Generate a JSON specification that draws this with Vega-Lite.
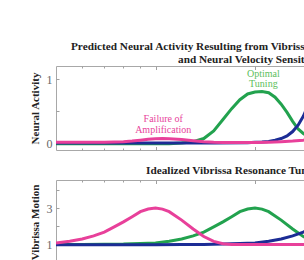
{
  "$schema": "https://vega.github.io/schema/vega-lite/v6.json",
  "padding": {"left": 28, "top": 40, "right": 0, "bottom": 0},
  "spacing": 13,
  "config": {
    "font": "Liberation Serif",
    "view": {"stroke": "#a8a8a8", "strokeWidth": 1},
    "axis": {"domain": false, "grid": false, "tickColor": "#a0a0a0", "labelColor": "#666666", "labelFont": "Liberation Serif", "labelFontSize": 12, "labelOverlap": false, "titleFont": "Liberation Serif", "titleFontSize": 11, "titleFontWeight": "bold", "titleColor": "#222222"},
    "title": {"font": "Liberation Serif", "fontSize": 11.25, "fontWeight": "bold", "color": "#222222"}
  },
  "title": {"text": "Predicted Neural Activity Resulting from Vibrissa Resonance Tuning", "anchor": "start", "dx": 15, "offset": 2, "frame": "group"},
  "datasets": {
    "activity": [
      {"freq": 50, "value": -0.01, "series": "green"}, {"freq": 60, "value": -0.01, "series": "green"}, {"freq": 70, "value": -0.01, "series": "green"}, {"freq": 80, "value": -0.01, "series": "green"}, {"freq": 90, "value": -0.01, "series": "green"}, {"freq": 100, "value": -0.01, "series": "green"}, {"freq": 110, "value": -0.01, "series": "green"}, {"freq": 120, "value": 0.0, "series": "green"}, {"freq": 130, "value": 0.02, "series": "green"}, {"freq": 140, "value": 0.07, "series": "green"}, {"freq": 150, "value": 0.19, "series": "green"}, {"freq": 160, "value": 0.37, "series": "green"}, {"freq": 170, "value": 0.54, "series": "green"}, {"freq": 180, "value": 0.68, "series": "green"}, {"freq": 190, "value": 0.77, "series": "green"}, {"freq": 200, "value": 0.8, "series": "green"}, {"freq": 210, "value": 0.81, "series": "green"}, {"freq": 220, "value": 0.79, "series": "green"}, {"freq": 230, "value": 0.72, "series": "green"}, {"freq": 240, "value": 0.61, "series": "green"}, {"freq": 250, "value": 0.48, "series": "green"}, {"freq": 260, "value": 0.34, "series": "green"}, {"freq": 270, "value": 0.22, "series": "green"}, {"freq": 280, "value": 0.15, "series": "green"}, {"freq": 290, "value": 0.1, "series": "green"}, {"freq": 300, "value": 0.07, "series": "green"}, {"freq": 320, "value": 0.03, "series": "green"}, {"freq": 350, "value": 0.01, "series": "green"}, {"freq": 400, "value": 0.0, "series": "green"}, {"freq": 800, "value": 0.0, "series": "green"},
      {"freq": 50, "value": 0.0, "series": "blue"}, {"freq": 100, "value": 0.0, "series": "blue"}, {"freq": 150, "value": 0.0, "series": "blue"}, {"freq": 190, "value": 0.005, "series": "blue"}, {"freq": 200, "value": 0.01, "series": "blue"}, {"freq": 210, "value": 0.015, "series": "blue"}, {"freq": 220, "value": 0.025, "series": "blue"}, {"freq": 230, "value": 0.045, "series": "blue"}, {"freq": 240, "value": 0.07, "series": "blue"}, {"freq": 250, "value": 0.11, "series": "blue"}, {"freq": 260, "value": 0.18, "series": "blue"}, {"freq": 270, "value": 0.28, "series": "blue"}, {"freq": 280, "value": 0.42, "series": "blue"}, {"freq": 290, "value": 0.6, "series": "blue"}, {"freq": 300, "value": 0.8, "series": "blue"}, {"freq": 320, "value": 1.1, "series": "blue"}, {"freq": 350, "value": 1.35, "series": "blue"}, {"freq": 400, "value": 1.4, "series": "blue"}, {"freq": 500, "value": 1.0, "series": "blue"}, {"freq": 600, "value": 0.4, "series": "blue"}, {"freq": 700, "value": 0.15, "series": "blue"}, {"freq": 800, "value": 0.05, "series": "blue"},
      {"freq": 50, "value": 0.01, "series": "pink"}, {"freq": 60, "value": 0.01, "series": "pink"}, {"freq": 70, "value": 0.01, "series": "pink"}, {"freq": 75, "value": 0.015, "series": "pink"}, {"freq": 80, "value": 0.02, "series": "pink"}, {"freq": 85, "value": 0.03, "series": "pink"}, {"freq": 90, "value": 0.045, "series": "pink"}, {"freq": 95, "value": 0.06, "series": "pink"}, {"freq": 100, "value": 0.068, "series": "pink"}, {"freq": 105, "value": 0.07, "series": "pink"}, {"freq": 110, "value": 0.068, "series": "pink"}, {"freq": 120, "value": 0.055, "series": "pink"}, {"freq": 130, "value": 0.035, "series": "pink"}, {"freq": 140, "value": 0.02, "series": "pink"}, {"freq": 150, "value": 0.012, "series": "pink"}, {"freq": 160, "value": 0.008, "series": "pink"}, {"freq": 180, "value": 0.006, "series": "pink"}, {"freq": 200, "value": 0.008, "series": "pink"}, {"freq": 220, "value": 0.012, "series": "pink"}, {"freq": 240, "value": 0.02, "series": "pink"}, {"freq": 260, "value": 0.03, "series": "pink"}, {"freq": 280, "value": 0.045, "series": "pink"}, {"freq": 300, "value": 0.065, "series": "pink"}, {"freq": 350, "value": 0.12, "series": "pink"}, {"freq": 400, "value": 0.17, "series": "pink"}, {"freq": 500, "value": 0.26, "series": "pink"}, {"freq": 600, "value": 0.33, "series": "pink"}, {"freq": 800, "value": 0.45, "series": "pink"}
    ],
    "motion": [
      {"freq": 50, "value": 0.97, "series": "green"}, {"freq": 60, "value": 0.98, "series": "green"}, {"freq": 70, "value": 0.99, "series": "green"}, {"freq": 80, "value": 1.0, "series": "green"}, {"freq": 90, "value": 1.03, "series": "green"}, {"freq": 100, "value": 1.06, "series": "green"}, {"freq": 110, "value": 1.15, "series": "green"}, {"freq": 120, "value": 1.28, "series": "green"}, {"freq": 130, "value": 1.45, "series": "green"}, {"freq": 140, "value": 1.66, "series": "green"}, {"freq": 150, "value": 1.95, "series": "green"}, {"freq": 160, "value": 2.23, "series": "green"}, {"freq": 170, "value": 2.52, "series": "green"}, {"freq": 180, "value": 2.8, "series": "green"}, {"freq": 190, "value": 2.95, "series": "green"}, {"freq": 200, "value": 3.0, "series": "green"}, {"freq": 210, "value": 2.94, "series": "green"}, {"freq": 220, "value": 2.8, "series": "green"}, {"freq": 240, "value": 2.33, "series": "green"}, {"freq": 260, "value": 1.84, "series": "green"}, {"freq": 280, "value": 1.42, "series": "green"}, {"freq": 300, "value": 1.15, "series": "green"}, {"freq": 320, "value": 1.02, "series": "green"}, {"freq": 340, "value": 0.98, "series": "green"}, {"freq": 360, "value": 0.97, "series": "green"}, {"freq": 800, "value": 0.97, "series": "green"},
      {"freq": 50, "value": 0.96, "series": "blue"}, {"freq": 100, "value": 0.96, "series": "blue"}, {"freq": 120, "value": 0.97, "series": "blue"}, {"freq": 140, "value": 0.98, "series": "blue"}, {"freq": 160, "value": 1.0, "series": "blue"}, {"freq": 180, "value": 1.03, "series": "blue"}, {"freq": 200, "value": 1.06, "series": "blue"}, {"freq": 220, "value": 1.15, "series": "blue"}, {"freq": 240, "value": 1.28, "series": "blue"}, {"freq": 260, "value": 1.45, "series": "blue"}, {"freq": 280, "value": 1.66, "series": "blue"}, {"freq": 300, "value": 1.95, "series": "blue"}, {"freq": 320, "value": 2.23, "series": "blue"}, {"freq": 340, "value": 2.52, "series": "blue"}, {"freq": 360, "value": 2.8, "series": "blue"}, {"freq": 380, "value": 2.95, "series": "blue"}, {"freq": 400, "value": 3.0, "series": "blue"}, {"freq": 420, "value": 2.94, "series": "blue"}, {"freq": 440, "value": 2.8, "series": "blue"}, {"freq": 480, "value": 2.33, "series": "blue"}, {"freq": 520, "value": 1.84, "series": "blue"}, {"freq": 560, "value": 1.42, "series": "blue"}, {"freq": 600, "value": 1.15, "series": "blue"}, {"freq": 640, "value": 1.02, "series": "blue"}, {"freq": 680, "value": 0.98, "series": "blue"}, {"freq": 800, "value": 0.97, "series": "blue"},
      {"freq": 50, "value": 1.06, "series": "pink"}, {"freq": 55, "value": 1.15, "series": "pink"}, {"freq": 60, "value": 1.28, "series": "pink"}, {"freq": 65, "value": 1.45, "series": "pink"}, {"freq": 70, "value": 1.66, "series": "pink"}, {"freq": 75, "value": 1.95, "series": "pink"}, {"freq": 80, "value": 2.23, "series": "pink"}, {"freq": 85, "value": 2.52, "series": "pink"}, {"freq": 90, "value": 2.8, "series": "pink"}, {"freq": 95, "value": 2.95, "series": "pink"}, {"freq": 100, "value": 3.0, "series": "pink"}, {"freq": 105, "value": 2.94, "series": "pink"}, {"freq": 110, "value": 2.8, "series": "pink"}, {"freq": 120, "value": 2.33, "series": "pink"}, {"freq": 130, "value": 1.84, "series": "pink"}, {"freq": 140, "value": 1.42, "series": "pink"}, {"freq": 150, "value": 1.15, "series": "pink"}, {"freq": 160, "value": 1.02, "series": "pink"}, {"freq": 170, "value": 0.98, "series": "pink"}, {"freq": 180, "value": 0.97, "series": "pink"}, {"freq": 800, "value": 0.97, "series": "pink"}
    ],
    "notes": [
      {"freq": 212, "value": 1.08, "label": "Optimal", "series": "green"},
      {"freq": 212, "value": 0.92, "label": "Tuning", "series": "green"},
      {"freq": 105.5, "value": 0.37, "label": "Failure of", "series": "pink"},
      {"freq": 105.5, "value": 0.21, "label": "Amplification", "series": "pink"}
    ]
  },
  "vconcat": [
    {
      "width": 398,
      "height": 84,
      "title": {"text": "and Neural Velocity Sensitivity", "anchor": "start", "frame": "group", "dx": 122, "offset": 0},
      "resolve": {"axis": {"x": "independent"}},
      "layer": [
        {
          "data": {"name": "activity"},
          "mark": {"type": "line", "strokeWidth": 3, "clip": true},
          "encoding": {
            "x": {"field": "freq", "type": "quantitative", "scale": {"type": "log", "domain": [50, 800], "nice": false}, "axis": {"orient": "bottom", "values": [60, 70, 80, 90, 100, 200], "labels": false, "title": null, "tickSize": {"condition": {"test": "datum.value == 100 || datum.value == 200", "value": -3.5}, "value": -2}}},
            "y": {"field": "value", "type": "quantitative", "scale": {"domain": [-0.11, 1.21], "nice": false, "zero": false}, "axis": {"values": [0, 0.5, 1], "format": "~g", "labelExpr": "datum.value == 0.5 ? '' : datum.label", "tickSize": -3, "labelPadding": 7, "labelOverlap": false, "title": "Neural Activity", "titlePadding": 6}},
            "color": {"field": "series", "type": "nominal", "sort": ["green", "blue", "pink"], "scale": {"domain": ["green", "blue", "pink"], "range": ["#22a24e", "#1c2c95", "#e8409a"]}, "legend": null}
          }
        },
        {
          "data": {"name": "notes"},
          "transform": [{"filter": "datum.series == 'green'"}],
          "mark": {"type": "text", "font": "Liberation Serif", "fontSize": 10, "color": "#5cc05c"},
          "encoding": {
            "x": {"field": "freq", "type": "quantitative", "axis": {"orient": "top", "values": [60, 70, 80, 90, 100, 200], "labels": false, "title": null, "tickSize": {"condition": {"test": "datum.value == 100 || datum.value == 200", "value": -3.5}, "value": -2}}},
            "y": {"field": "value", "type": "quantitative", "axis": {"values": [0, 0.5, 1], "format": "~g", "labelExpr": "datum.value == 0.5 ? '' : datum.label", "tickSize": -3, "labelPadding": 7, "labelOverlap": false, "title": "Neural Activity", "titlePadding": 6}},
            "text": {"field": "label"}
          }
        },
        {
          "data": {"name": "notes"},
          "transform": [{"filter": "datum.series == 'pink'"}],
          "mark": {"type": "text", "font": "Liberation Serif", "fontSize": 10, "color": "#e8449c"},
          "encoding": {
            "x": {"field": "freq", "type": "quantitative", "axis": null},
            "y": {"field": "value", "type": "quantitative", "axis": {"values": [0, 0.5, 1], "format": "~g", "labelExpr": "datum.value == 0.5 ? '' : datum.label", "tickSize": -3, "labelPadding": 7, "labelOverlap": false, "title": "Neural Activity", "titlePadding": 6}},
            "text": {"field": "label"}
          }
        }
      ]
    },
    {
      "width": 398,
      "height": 84,
      "title": {"text": "Idealized Vibrissa Resonance Tuning", "anchor": "start", "frame": "group", "dx": 90, "offset": 3},
      "resolve": {"axis": {"x": "independent"}},
      "layer": [
        {
          "data": {"name": "motion"},
          "mark": {"type": "line", "strokeWidth": 3, "clip": true},
          "encoding": {
            "x": {"field": "freq", "type": "quantitative", "scale": {"type": "log", "domain": [50, 800], "nice": false}, "axis": {"orient": "bottom", "values": [60, 70, 80, 90, 100, 200], "labels": false, "title": null, "tickSize": {"condition": {"test": "datum.value == 100 || datum.value == 200", "value": -3.5}, "value": -2}}},
            "y": {"field": "value", "type": "quantitative", "scale": {"domain": [-0.11, 4.56], "nice": false, "zero": false}, "axis": {"values": [1, 2, 3, 4], "format": "~g", "labelExpr": "datum.value == 1 || datum.value == 3 ? datum.label : ''", "tickSize": -3, "labelPadding": 7, "labelOverlap": false, "title": "Vibrissa Motion", "titlePadding": 6}},
            "color": {"field": "series", "type": "nominal", "sort": ["green", "blue", "pink"], "scale": {"domain": ["green", "blue", "pink"], "range": ["#22a24e", "#1c2c95", "#e8409a"]}, "legend": null}
          }
        },
        {
          "data": {"name": "motion"},
          "transform": [{"filter": "datum.series == 'pink' && datum.freq == 100"}],
          "mark": {"type": "point", "opacity": 0},
          "encoding": {
            "x": {"field": "freq", "type": "quantitative", "axis": {"orient": "top", "values": [60, 70, 80, 90, 100, 200], "labels": false, "title": null, "tickSize": {"condition": {"test": "datum.value == 100 || datum.value == 200", "value": -3.5}, "value": -2}}},
            "y": {"field": "value", "type": "quantitative", "axis": {"values": [1, 2, 3, 4], "format": "~g", "labelExpr": "datum.value == 1 || datum.value == 3 ? datum.label : ''", "tickSize": -3, "labelPadding": 7, "labelOverlap": false, "title": "Vibrissa Motion", "titlePadding": 6}}
          }
        }
      ]
    }
  ]
}
